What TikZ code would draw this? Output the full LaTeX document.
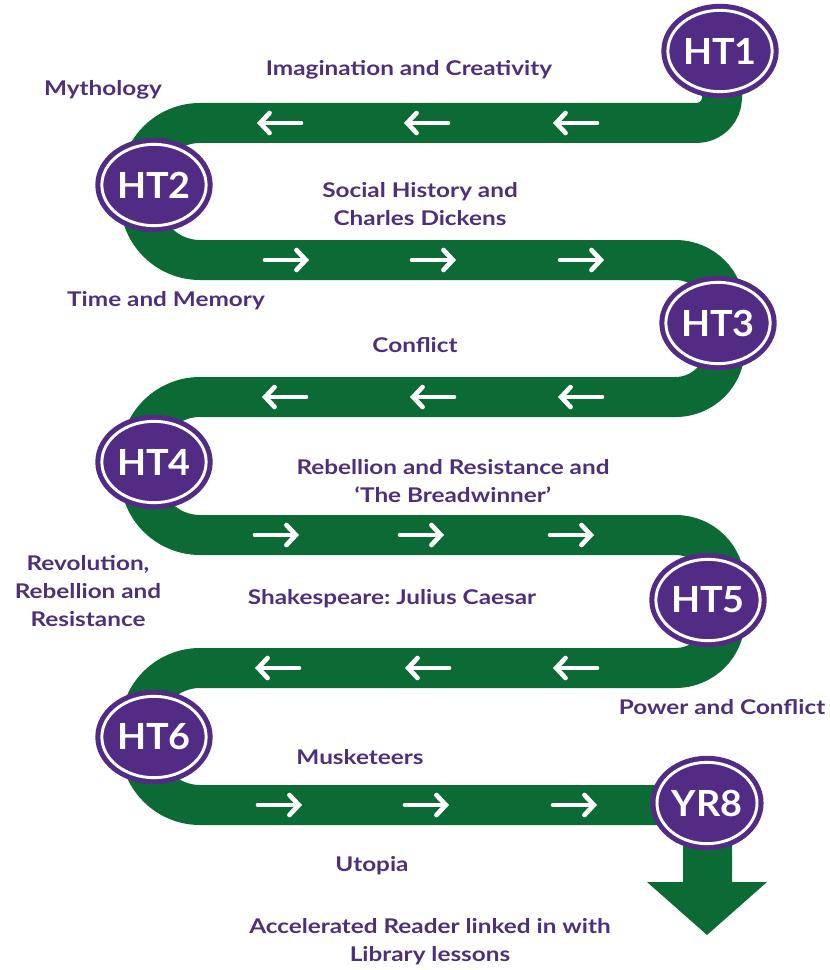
\documentclass[tikz,border=0pt]{standalone}
\usepackage{fontspec}
\setmainfont{Lato}
\newfontfamily\labfont[FakeStretch=1.2]{Lato}
\newfontfamily\circfont[FakeStretch=1.05]{Lato}
\usetikzlibrary{arrows.meta,shapes.geometric}
\definecolor{grn}{RGB}{12,106,52}
\definecolor{pur}{RGB}{82,44,132}
\definecolor{txt}{RGB}{78,48,122}
\frenchspacing
\tikzset{
  band/.style={draw=grn, line width=30pt, line join=round},
  htnode/.style={ellipse, fill=pur, draw=pur, double=white, line width=3.8pt,
    double distance=2.2pt, minimum width=68pt, minimum height=61pt, inner sep=0pt,
    text=white, font=\circfont\fontsize{27}{27}\selectfont\bfseries},
  lab/.style={text=txt, align=center, inner sep=0pt,
    font=\labfont\fontsize{15.2}{21}\selectfont\bfseries},
  wa/.style={draw=white, line width=3.5pt, line cap=round,
    -{Straight Barb[length=7pt, width=15pt, line cap=round]}}
}
\begin{document}
\begin{tikzpicture}[x=0.75pt,y=-0.75pt]
\useasboundingbox (0,0) rectangle (830,970);
% green band
\draw[band] (722,45) [rounded corners=19pt] -- (722,123)
  [rounded corners=45pt] -- (140,123) -- (140,260)
  [rounded corners=37pt] -- (725,260) -- (725,397)
  [rounded corners=45pt] -- (140,397) -- (140,535)
  [rounded corners=37pt] -- (725,535) -- (725,668)
  [rounded corners=45pt] -- (140,668) -- (140,805)
  [sharp corners] -- (707,805);
% downward arrow
\fill[grn] (683,815) -- (683,882) -- (647,882) -- (707,935) -- (767,882) -- (732,882) -- (732,815) -- cycle;
% white arrows
\foreach \x in {279,426,575} \draw[wa] (\x+22,123) -- (\x-22,123);
\foreach \x in {287,434,582} \draw[wa] (\x-22,260) -- (\x+22,260);
\foreach \x in {284,432,580} \draw[wa] (\x+22,397) -- (\x-22,397);
\foreach \x in {277,422,572} \draw[wa] (\x-22,535) -- (\x+22,535);
\foreach \x in {277,427,575} \draw[wa] (\x+22,668) -- (\x-22,668);
\foreach \x in {280,427,575} \draw[wa] (\x-22,805) -- (\x+22,805);
% circles
\node[htnode] (ht1) at (720,51) {HT1};
\node[htnode] (ht2) at (154,185) {HT2};
\node[htnode] (ht3) at (718,323) {HT3};
\node[htnode] (ht4) at (154,462) {HT4};
\node[htnode] (ht5) at (708,600) {HT5};
\node[htnode] (ht6) at (154,737) {HT6};
\node[htnode] (yr8) at (707,803) {YR8};
% labels
\node[lab] (l1) at (103,90) {Mythology};
\node[lab] (l2) at (409,70) {Imagination and Creativity};
\node[lab] (l3) at (420,204) {Social History and\\Charles Dickens};
\node[lab] (l4) at (166,301) {Time and Memory};
\node[lab] (l5) at (415,345) {Conflict};
\node[lab] (l6) at (453,481) {Rebellion and Resistance and\\‘The Breadwinner’};
\node[lab] (l7) at (88,591) {Revolution,\\Rebellion and\\Resistance};
\node[lab] (l8) at (392,599) {Shakespeare: Julius Caesar};
\node[lab] (l9) at (722,707) {Power and Conflict};
\node[lab] (l10) at (360,757) {Musketeers};
\node[lab] (l11) at (372,866) {Utopia};
\node[lab] (l12) at (430,942) {Accelerated Reader linked in with\\Library lessons};
\end{tikzpicture}
\end{document}
